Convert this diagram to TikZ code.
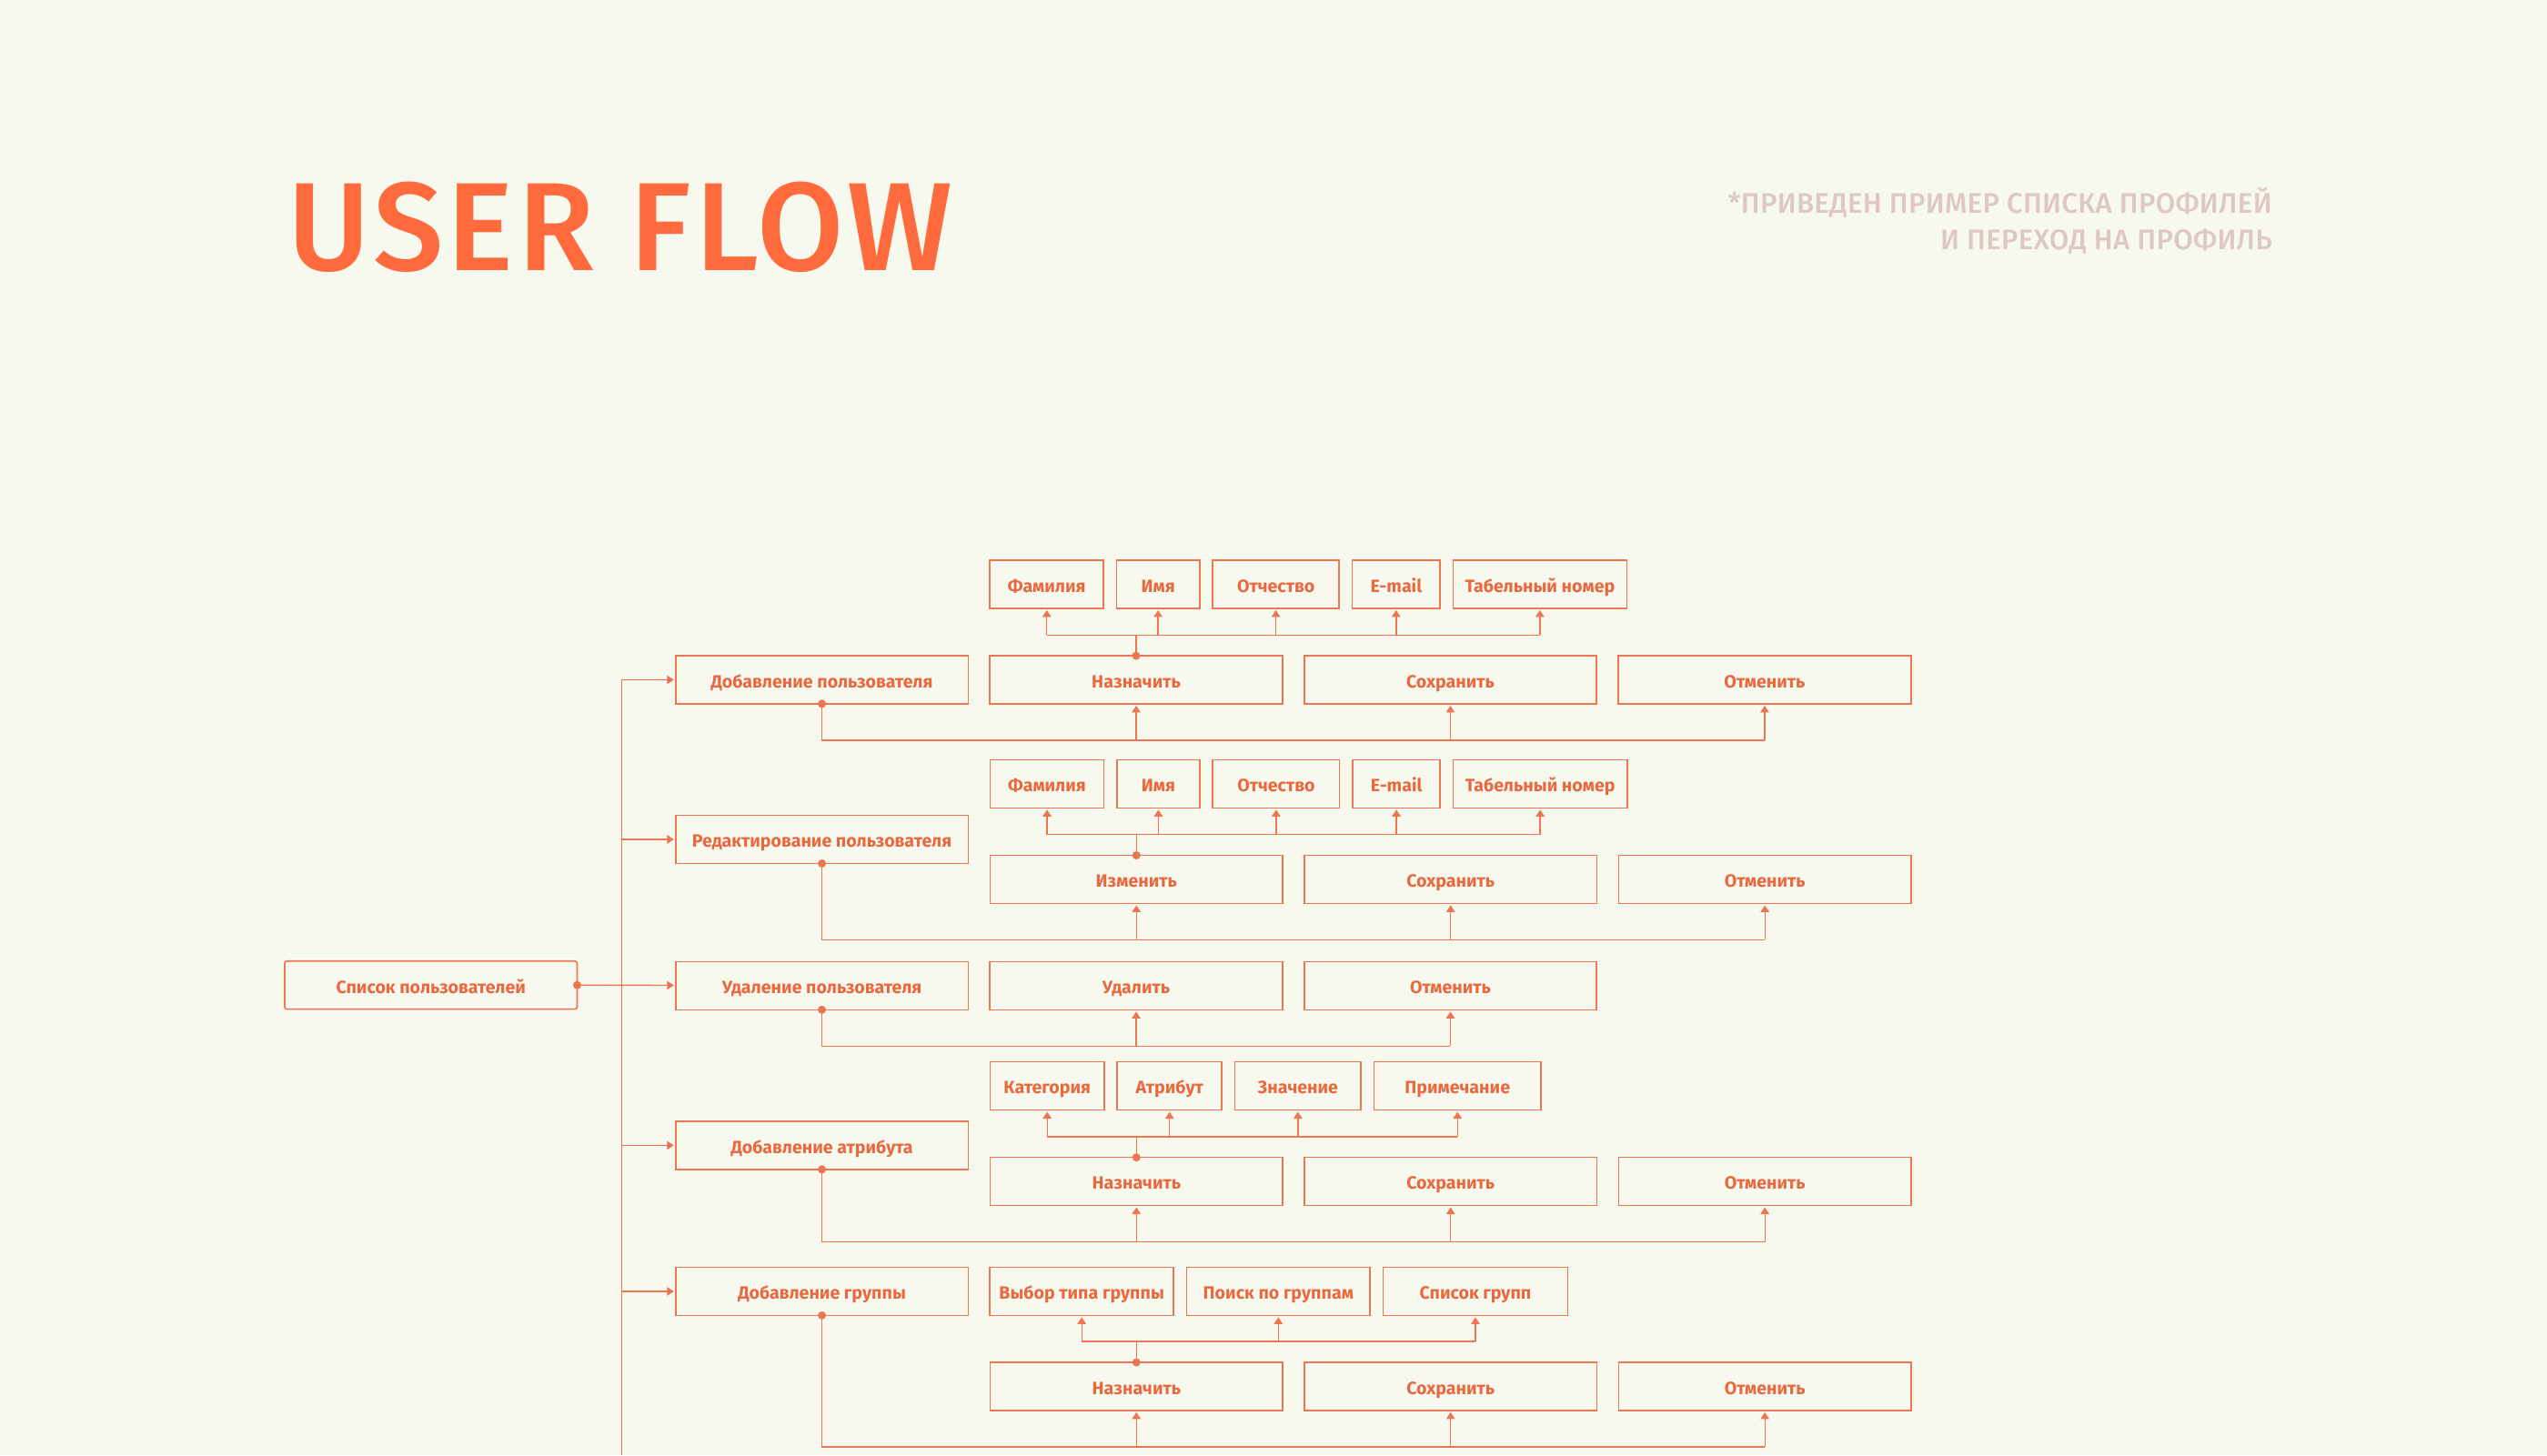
\documentclass[tikz,border=0pt]{standalone}
\usepackage{fontspec}
\setmainfont{Fira Sans}
\newfontfamily\titlefont{Fira Sans Medium}[LetterSpace=3]
\newfontfamily\notefont{Fira Sans Medium}[LetterSpace=1]
\usepackage{tikz}
\usetikzlibrary{positioning, arrows.meta}

\definecolor{bgclr}{HTML}{F8F9EE}
\definecolor{lineclr}{HTML}{EC7552}
\definecolor{txtclr}{HTML}{E8693F}
\definecolor{titleclr}{HTML}{FF6B3D}
\definecolor{noteclr}{HTML}{DEC8C2}

\tikzset{
    box/.style = {draw = lineclr, line width = 0.65pt, text = txtclr,
        font = \bfseries\fontsize{7.8}{9}\selectfont, text height = 7pt, text depth = 0pt,
        minimum width = 4.5cm, minimum height = 0.74cm, inner sep = 0pt, outer sep = 0pt},
    field/.style = {box, minimum width = #1},
    wire/.style = {draw = lineclr, line width = 0.55pt},
    arr/.style = {wire, -{Triangle[length = 3pt, width = 3.8pt]}, shorten > = 0.8pt},
    note/.style = {anchor = base east, inner sep = 0pt, text = noteclr,
        font = \notefont\fontsize{12.4}{15}\selectfont}
}

\begin{document}
\begin{tikzpicture}[x = 0.025cm, y = -0.025cm, node distance = 0.335cm]

            \fill[bgclr] (0,0) rectangle (1568,896);

            \node[anchor = base west, inner sep = 0pt, text = titleclr,
                font = \titlefont\fontsize{55}{60}\selectfont] (title) at (177,166.7) {USER FLOW};
            \node[note] (note1) at (1399,131.2) {*ПРИВЕДЕН ПРИМЕР СПИСКА ПРОФИЛЕЙ};
            \node[note] (note2) at (1399,153.6) {И ПЕРЕХОД НА ПРОФИЛЬ};

            \node[box, rounded corners = 1pt] (lst) at (265.3,606.6) {Список пользователей};

            \node[box] (addu) at (506,418.6) {Добавление пользователя};
            \node[box] (edtu) at (506,516.9) {Редактирование пользователя};
            \node[box] (delu) at (506,607) {Удаление пользователя};
            \node[box] (adda) at (506,705.3) {Добавление атрибута};
            \node[box] (addg) at (506,795.2) {Добавление группы};

            % adding a user
            \node[box, right=of addu] (addu-set) {Назначить};
            \node[box, right=of addu-set] (addu-save) {Сохранить};
            \node[box, right=of addu-save] (addu-cancel) {Отменить};
            \node[field=1.75cm, above=0.73cm of addu-set.north west, anchor=south west] (addu-f1) {Фамилия};
            \node[field=1.275cm, right=0.2cm of addu-f1] (addu-f2) {Имя};
            \node[field=1.95cm, right=0.2cm of addu-f2] (addu-f3) {Отчество};
            \node[field=1.35cm, right=0.2cm of addu-f3] (addu-f4) {E-mail};
            \node[field=2.675cm, right=0.2cm of addu-f4] (addu-f5) {Табельный номер};

            % editing a user
            \node[box] (edtu-set) at (699.6,541.5) {Изменить};
            \node[box, right=of edtu-set] (edtu-save) {Сохранить};
            \node[box, right=of edtu-save] (edtu-cancel) {Отменить};
            \node[field=1.75cm, above=0.73cm of edtu-set.north west, anchor=south west] (edtu-f1) {Фамилия};
            \node[field=1.275cm, right=0.2cm of edtu-f1] (edtu-f2) {Имя};
            \node[field=1.95cm, right=0.2cm of edtu-f2] (edtu-f3) {Отчество};
            \node[field=1.35cm, right=0.2cm of edtu-f3] (edtu-f4) {E-mail};
            \node[field=2.675cm, right=0.2cm of edtu-f4] (edtu-f5) {Табельный номер};

            % deleting a user
            \node[box, right=of delu] (delu-set) {Удалить};
            \node[box, right=of delu-set] (delu-cancel) {Отменить};

            % adding an attribute
            \node[box] (adda-set) at (699.6,727.5) {Назначить};
            \node[box, right=of adda-set] (adda-save) {Сохранить};
            \node[box, right=of adda-save] (adda-cancel) {Отменить};
            \node[field=1.755cm, above=0.73cm of adda-set.north west, anchor=south west] (adda-f1) {Категория};
            \node[field=1.61cm, right=0.2cm of adda-f1] (adda-f2) {Атрибут};
            \node[field=1.94cm, right=0.2cm of adda-f2] (adda-f3) {Значение};
            \node[field=2.57cm, right=0.2cm of adda-f3] (adda-f4) {Примечание};

            % adding a group
            \node[field=2.825cm, right=of addg] (addg-f1) {Выбор типа группы};
            \node[field=2.825cm, right=0.2cm of addg-f1] (addg-f2) {Поиск по группам};
            \node[field=2.84cm, right=0.2cm of addg-f2] (addg-f3) {Список групп};
            \node[box] (addg-set) at (699.6,853.7) {Назначить};
            \node[box, right=of addg-set] (addg-save) {Сохранить};
            \node[box, right=of addg-save] (addg-cancel) {Отменить};

            \coordinate (trunk) at (382.6,418.6);
            \coordinate (trunk-end) at (382.6,896);
            \draw[wire] (trunk) -- (trunk-end);
            \foreach \r in {addu, edtu, adda, addg}
                \draw[arr] (trunk |- \r) -- (\r);
            \draw[arr] (lst.east) -- (delu);
            \fill[lineclr] (lst.east) circle[radius = 1.8pt];

            \foreach \r in {addu, edtu, delu, adda, addg} {
                \coordinate[below=0.56cm of \r-set] (\r-bus);
                \draw[wire] (\r.south) |- (\r-bus -| \r-cancel);
                \draw[arr] (\r-bus -| \r-set) -- (\r-set);
                \draw[arr] (\r-bus -| \r-cancel) -- (\r-cancel);
                \fill[lineclr] (\r.south) circle[radius = 1.8pt];
            }
            \foreach \r in {addu, edtu, adda, addg}
                \draw[arr] (\r-bus -| \r-save) -- (\r-save);

            \foreach \r/\n in {addu/5, edtu/5, adda/4, addg/3} {
                \coordinate[above=0.32cm of \r-set] (\r-top);
                \draw[wire] (\r-set.north) -- (\r-top);
                \draw[wire] (\r-top -| \r-f1) -- (\r-top -| \r-f\n);
                \foreach \i in {1,...,\n}
                    \draw[arr] (\r-top -| \r-f\i) -- (\r-f\i);
                \fill[lineclr] (\r-set.north) circle[radius = 1.8pt];
            }

\end{tikzpicture}
\end{document}
